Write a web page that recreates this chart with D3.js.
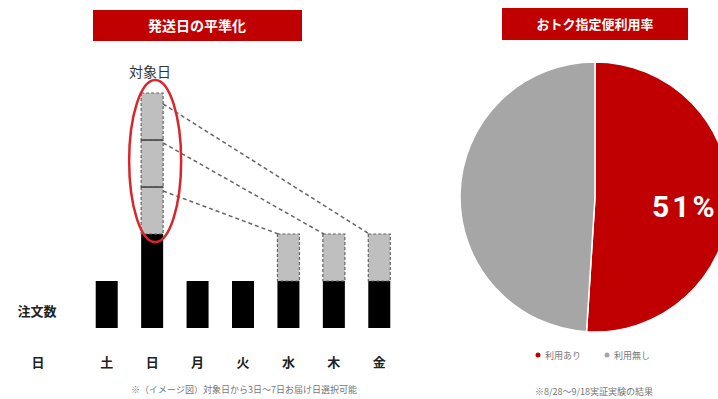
<!DOCTYPE html>
<html>
<head>
<meta charset="utf-8">
<script src="https://cdn.jsdelivr.net/npm/d3@7"></script>
<style>
  body { margin: 0; background: #fff; }
  text { font-family: "Noto Sans CJK JP", "Noto Sans", sans-serif; }
</style>
</head>
<body>
<div id="chart"></div>
<script>
// 曜日と注文数（単位ブロック）
var days = ["土", "日", "月", "火", "水", "木", "金"];
var baseOrders = [1, 2, 1, 1, 1, 1, 1];
var shiftedOrders = [0, 3, 0, 0, 1, 1, 1];
var shiftTargets = ["金", "木", "水"];   // 日曜の上のブロックから順に

var pieLabels = ["利用あり", "利用無し"];
var pieValues = [51, 49];
var pieColors = ["#c00000", "#a6a6a6"];

var width = 718, height = 399;

var svg = d3.select("#chart")
  .append("svg")
  .attr("width", width)
  .attr("height", height);

// ---- 左：発送日の平準化 ----
var x = d3.scalePoint()
  .domain(days)
  .range([84, 402])
  .padding(0.5);

var y = d3.scaleLinear()
  .domain([0, 5])
  .range([328, 93]);

var barW = 22;

svg.append("rect")
  .attr("x", 93).attr("y", 10)
  .attr("width", 209).attr("height", 31)
  .style("fill", "#c00000");
svg.append("text")
  .attr("x", 197).attr("y", 31)
  .style("text-anchor", "middle")
  .style("fill", "white")
  .style("font-weight", "bold")
  .style("font-size", 14)
  .text("発送日の平準化");

var bars = svg.append("g");

bars.selectAll("rect.base").data(days)
  .enter()
  .append("rect")
  .attr("class", "base")
  .attr("x", function(d) { return x(d) - barW / 2; })
  .attr("y", function(d, i) { return y(baseOrders[i]); })
  .attr("width", barW)
  .attr("height", function(d, i) { return y(0) - y(baseOrders[i]); })
  .style("fill", "black");

// 移動する注文のブロック（点線枠）
days.forEach(function(d, i) {
  for (var k = 0; k < shiftedOrders[i]; k++) {
    var lo = baseOrders[i] + k;
    bars.append("rect")
      .attr("x", x(d) - barW / 2)
      .attr("y", y(lo + 1))
      .attr("width", barW)
      .attr("height", y(lo) - y(lo + 1))
      .style("fill", "#bfbfbf")
      .style("stroke", "#666")
      .style("stroke-width", 1.2)
      .style("stroke-dasharray", "3,2");
  }
});

// 日曜ブロックの区切り線
var sunIdx = days.indexOf("日");
for (var k = 1; k < shiftedOrders[sunIdx]; k++) {
  var yy = y(baseOrders[sunIdx] + k);
  bars.append("line")
    .attr("x1", x("日") - barW / 2).attr("x2", x("日") + barW / 2)
    .attr("y1", yy).attr("y2", yy)
    .style("stroke", "#444")
    .style("stroke-width", 1.5);
}

// 点線の矢印線
shiftTargets.forEach(function(t, k) {
  var topVal = baseOrders[sunIdx] + shiftedOrders[sunIdx] - k;
  var ti = days.indexOf(t);
  svg.append("line")
    .attr("x1", x("日") + barW / 2)
    .attr("y1", y(topVal) + [11, 3, 4][k])
    .attr("x2", x(t) - barW / 2 + 1)
    .attr("y2", y(baseOrders[ti] + shiftedOrders[ti]))
    .style("stroke", "#666")
    .style("stroke-width", 1.5)
    .style("stroke-dasharray", "4,3");
});

// 対象日の楕円
svg.append("ellipse")
  .attr("cx", x("日") + 3)
  .attr("cy", 161)
  .attr("rx", 26)
  .attr("ry", 81)
  .style("fill", "none")
  .style("stroke", "#d9262c")
  .style("stroke-width", 2.5);

svg.append("text")
  .attr("x", 150).attr("y", 77)
  .style("text-anchor", "middle")
  .style("fill", "#333")
  .style("font-size", 14)
  .text("対象日");

svg.append("text")
  .attr("x", 37).attr("y", 316)
  .style("text-anchor", "middle")
  .style("fill", "#222")
  .style("font-weight", "bold")
  .style("font-size", 13)
  .text("注文数");

svg.append("text")
  .attr("x", 38).attr("y", 367)
  .style("text-anchor", "middle")
  .style("fill", "#222")
  .style("font-weight", "bold")
  .style("font-size", 13)
  .text("日");

svg.selectAll("text.day").data(days)
  .enter()
  .append("text")
  .attr("class", "day")
  .attr("x", function(d) { return x(d); })
  .attr("y", 367)
  .style("text-anchor", "middle")
  .style("fill", "#222")
  .style("font-weight", "bold")
  .style("font-size", 13)
  .text(function(d) { return d; });

svg.append("text")
  .attr("x", 244).attr("y", 393)
  .style("text-anchor", "middle")
  .style("fill", "#777")
  .style("font-size", 9)
  .text("※（イメージ図）対象日から3日～7日お届け日選択可能");

// ---- 右：おトク指定便利用率 ----
svg.append("rect")
  .attr("x", 502).attr("y", 8)
  .attr("width", 186).attr("height", 32)
  .style("fill", "#c00000");
svg.append("text")
  .attr("x", 595).attr("y", 29)
  .style("text-anchor", "middle")
  .style("fill", "white")
  .style("font-weight", "bold")
  .style("font-size", 13)
  .text("おトク指定便利用率");

var cx = 595, cy = 197, r = 135;

var pie = d3.pie().sort(null).value(function(d) { return d; });
var arc = d3.arc().innerRadius(0).outerRadius(r);

svg.append("g")
  .attr("transform", "translate(" + cx + "," + cy + ")")
  .selectAll("path").data(pie(pieValues))
  .enter()
  .append("path")
  .attr("d", arc)
  .style("fill", function(d, i) { return pieColors[i]; })
  .style("stroke", "white")
  .style("stroke-width", 1.5);

svg.append("text")
  .attr("x", 652).attr("y", 217)
  .style("fill", "white")
  .style("font-family", "Roboto, sans-serif")
  .style("font-weight", "bold")
  .style("font-size", 30)
  .style("letter-spacing", "3px")
  .text(pieValues[0] + "%");

// 凡例
var legendX = [538, 607];
pieLabels.forEach(function(l, i) {
  svg.append("circle")
    .attr("cx", legendX[i]).attr("cy", 355)
    .attr("r", 2.5)
    .style("fill", pieColors[i]);
  svg.append("text")
    .attr("x", legendX[i] + 7).attr("y", 358.5)
    .style("fill", "#777")
    .style("font-size", 9)
    .text(l);
});

svg.append("text")
  .attr("x", 535).attr("y", 395)
  .style("fill", "#777")
  .style("font-size", 9)
  .text("※8/28～9/18実証実験の結果");
</script>
</body>
</html>
